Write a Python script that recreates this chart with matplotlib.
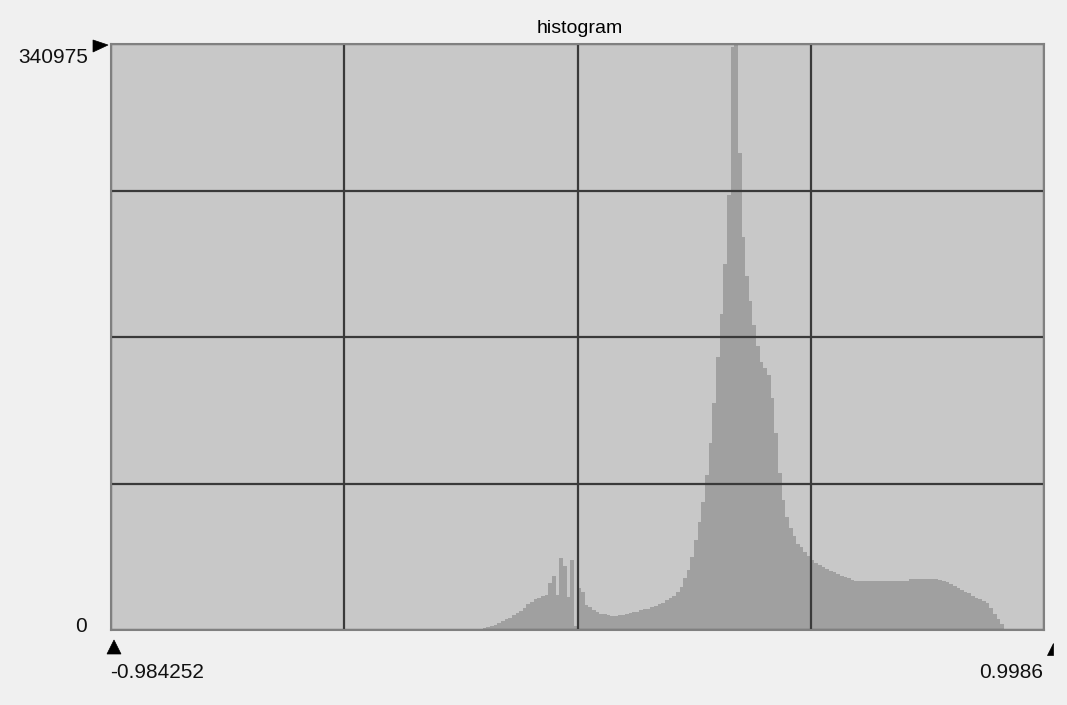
import numpy as np
import matplotlib
matplotlib.use("Agg")
import matplotlib.pyplot as plt
from matplotlib.patches import Polygon

# ---------------- data ----------------
x_min = -0.984252
x_max = 0.9986
y_max = 340975
n_bins = 256

# histogram counts (bins 101..245 are non-zero)
nonzero_counts = [
    400, 1000, 1600, 2330, 3200, 4070, 5240, 6110, 7270, 8440,            # 101-110
    9890, 11060, 13090, 15130, 16470, 17750, 18790, 19780, 20370, 27350,  # 111-120
    31600, 20370, 41890, 37410, 19380, 40730, 2330, 24260, 22290, 14550,  # 121-130
    13380, 11640, 10470, 9600, 9020, 8440, 8150, 8150, 8440, 8730,        # 131-140
    9310, 9720, 10470, 10760, 11350, 11930, 12510, 13380, 13960, 14840,   # 141-150
    16000, 17170, 18330, 19780, 22110, 25200, 30260, 34910, 42650, 52370, # 151-160
    63020, 74650, 90190, 109100, 132370, 158850, 184160, 212970, 253110, 339500,  # 161-170
    340975, 277550, 228680, 206220, 191720, 177470, 164960, 156060, 152450, 148380,  # 171-180
    134990, 114800, 91350, 75640, 65750, 59060, 54700, 50160, 48300, 45390,  # 181-190
    43060, 40730, 38990, 37820, 36660, 35490, 34330, 33460, 32580, 31710,  # 191-200
    30840, 30260, 29380, 28800, 28510, 28510, 28510, 28510, 28510, 28510,  # 201-210
    28510, 28510, 28510, 28510, 28510, 28510, 28510, 28510, 29500, 29500,  # 211-220
    29500, 29500, 29500, 29500, 29500, 29500, 29380, 28800, 27930, 26770,  # 221-230
    25600, 24440, 23270, 22290, 21240, 20070, 18910, 18040, 16870, 15420,  # 231-240
    12800, 9310, 6400, 3490, 870,                                          # 241-245
]
counts = [0] * 101 + nonzero_counts + [0] * 10

x_label_left = "-0.984252"
x_label_right = "0.9986"
y_label_top = "340975"
y_label_bottom = "0"
title = "histogram"

# ---------------- figure ----------------
W, H = 1067, 705
fig = plt.figure(figsize=(W / 100, H / 100), dpi=100, facecolor="#f0f0f0")

def fx(px):
    return px / W

def fy(py):
    return 1 - py / H

left, right, top, bottom = 111, 1044, 44, 630
ax = fig.add_axes([fx(left), fy(bottom), fx(right) - fx(left), fy(top) - fy(bottom)])
ax.set_facecolor("#c8c8c8")

edges = np.linspace(x_min, x_max, n_bins + 1)
ax.stairs(counts, edges, fill=True, color="#a0a0a0", linewidth=0, zorder=1)

ax.set_xlim(x_min, x_max)
ax.set_ylim(0, y_max)
ax.set_xticks(np.linspace(x_min, x_max, 5))
ax.set_yticks(np.linspace(0, y_max, 5))
ax.tick_params(length=0, labelbottom=False, labelleft=False)
ax.set_axisbelow(False)
ax.grid(True, color="#3a3a3a", linewidth=1.6, zorder=3)
for s in ax.spines.values():
    s.set_color("#808080")
    s.set_linewidth(1.5)
    s.set_zorder(4)

num_font = ["Liberation Sans", "DejaVu Sans"]
title_font = ["Liberation Sans", "DejaVu Sans"]

fig.text(fx(579.5), fy(33), title, ha="center", va="baseline",
         fontsize=14, family=title_font, color="#000000")
fig.text(fx(88), fy(63), y_label_top, ha="right", va="baseline",
         fontsize=15, family=num_font, color="#111111")
fig.text(fx(87), fy(632), y_label_bottom, ha="right", va="baseline",
         fontsize=15, family=num_font, color="#111111")
fig.text(fx(110), fy(678), x_label_left, ha="left", va="baseline",
         fontsize=15, family=num_font, color="#111111")
fig.text(fx(1043), fy(678), x_label_right, ha="right", va="baseline",
         fontsize=15, family=num_font, color="#111111")

# small marker triangles
markers = [
    [(93, 40), (93, 52), (108, 45)],
    [(107, 654), (121, 654), (114, 640)],
    [(1053, 643), (1053, 655), (1047, 655)],
]
for pts in markers:
    poly = Polygon([(fx(a), fy(b)) for a, b in pts], closed=True,
                   transform=fig.transFigure, facecolor="black",
                   edgecolor="black", linewidth=0.5)
    fig.add_artist(poly)

fig.savefig("out.png", dpi=100, facecolor=fig.get_facecolor())
